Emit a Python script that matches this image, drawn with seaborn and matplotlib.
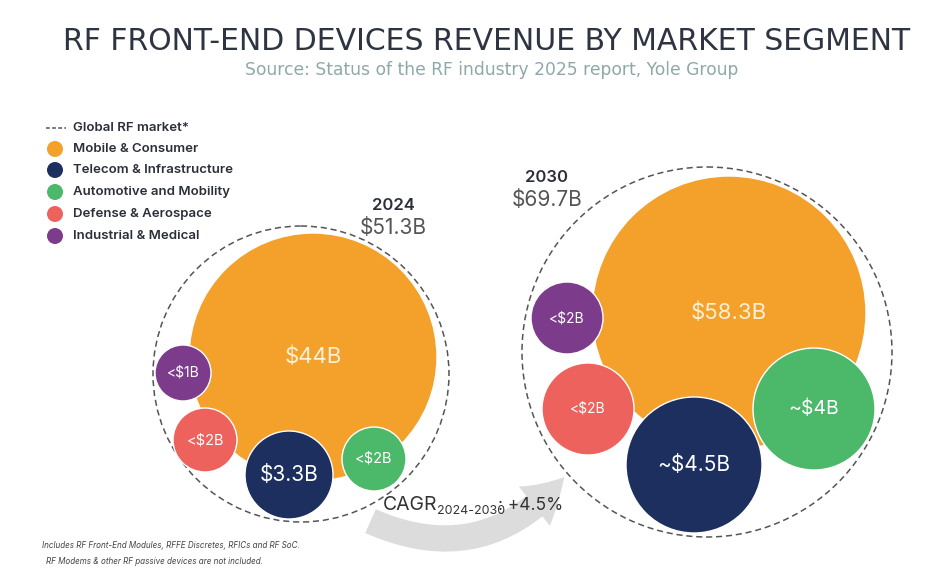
import numpy as np
import pandas as pd
import seaborn as sns
import matplotlib
matplotlib.use('Agg')
import matplotlib.pyplot as plt
from matplotlib.patches import Circle, FancyArrowPatch

# data
segments = ['Mobile & Consumer', 'Telecom & Infrastructure', 'Automotive and Mobility',
            'Defense & Aerospace', 'Industrial & Medical']
labels_2024 = ['$44B', '$3.3B', '<$2B', '<$2B', '<$1B']
labels_2030 = ['$58.3B', '~$4.5B', '~$4B', '<$2B', '<$2B']
years = ['2024', '2030']
totals = ['$51.3B', '$69.7B']
cagr = '+4.5%'

# layout (pixels) - bubble pack positions, not data
pos_2024 = [(313, 357), (289, 475), (374, 459), (205, 440), (183, 373)]
rad_2024 = [124, 44, 32, 32, 28]
pos_2030 = [(729, 313), (694, 465), (814, 409), (588, 409), (567, 318)]
rad_2030 = [137, 68, 61, 46, 36]
outer = [(301, 374, 148), (707, 352, 185)]

colors = {'Mobile & Consumer': '#f4a12c', 'Telecom & Infrastructure': '#1c2f5f',
          'Automotive and Mobility': '#4cb86a', 'Defense & Aerospace': '#ee625e',
          'Industrial & Medical': '#7d3b8b'}

sns.set_theme(style='white')
plt.rcParams['font.family'] = ['Inter', 'DejaVu Sans']

fig = plt.figure(figsize=(9.36, 5.85), dpi=100)
ax = fig.add_axes([0, 0, 1, 1])

rows = []
for yr, pos, rad, labs in [('2024', pos_2024, rad_2024, labels_2024),
                           ('2030', pos_2030, rad_2030, labels_2030)]:
    for seg, (x, y), r, lab in zip(segments, pos, rad, labs):
        rows.append({'year': yr, 'segment': seg, 'x': x, 'y': y, 'r': r, 'label': lab})
df = pd.DataFrame(rows)
df['s'] = (2 * df['r'] * 0.72) ** 2

# growth arrow behind everything
arrow = FancyArrowPatch(posA=(368, 520), posB=(566, 475),
                        connectionstyle='arc3,rad=0.38',
                        arrowstyle='simple,head_width=2.4,head_length=2.0,tail_width=1.25',
                        mutation_scale=15, color='#dcdcdc', lw=0, zorder=1)
ax.add_patch(arrow)

for (cx, cy, r) in outer:
    ax.add_patch(Circle((cx, cy), r, fill=False, ls=(0, (4, 2.5)), lw=1.1,
                        ec='#555555', zorder=2))

sns.scatterplot(data=df, x='x', y='y', hue='segment', palette=colors, s=df['s'],
                edgecolor='white', linewidth=1, legend=False, ax=ax, zorder=3)
ax.set_xlim(0, 936)
ax.set_ylim(585, 0)
ax.axis('off')

sizes = {'$44B': 16, '$58.3B': 16, '$3.3B': 15, '~$4.5B': 15, '~$4B': 14,
         '<$2B': 10.5, '<$1B': 10}
for _, row in df.iterrows():
    fc = '#fdf0d5' if row['segment'] == 'Mobile & Consumer' else 'white'
    fs = sizes[row['label']]
    if row['year'] == '2030' and row['label'] == '<$2B':
        fs = 10
    ax.text(row['x'], row['y'], row['label'], ha='center', va='center',
            fontsize=fs, color=fc, zorder=4)

# year / totals
ax.text(393, 206, years[0], ha='center', va='center', fontsize=12, fontweight='semibold', color='#2b2f3a')
ax.text(393, 228, totals[0], ha='center', va='center', fontsize=15, color='#555555')
ax.text(547, 177, years[1], ha='center', va='center', fontsize=12, fontweight='semibold', color='#2b2f3a')
ax.text(547, 200, totals[1], ha='center', va='center', fontsize=15, color='#555555')

# CAGR
ax.text(383, 505, 'CAGR', ha='left', va='center', fontsize=14, color='#333333', zorder=5)
ax.text(437, 511, '2024-2030', ha='left', va='center', fontsize=9, color='#333333', zorder=5)
ax.text(498, 505, ': ' + cagr, ha='left', va='center', fontsize=12.5, color='#333333', zorder=5)

# title
ax.text(487, 42, 'RF FRONT-END DEVICES REVENUE BY MARKET SEGMENT', ha='center', va='center',
        fontsize=21.5, color='#2e3441', family=['DejaVu Sans'])
ax.text(492, 70, 'Source: Status of the RF industry 2025 report, Yole Group', ha='center',
        va='center', fontsize=12.3, color='#8fa8a8', family=['DejaVu Sans'])

# legend
ax.plot([46, 66], [128, 128], ls=(0, (2.5, 1.5)), lw=1.1, color='#555555')
ax.text(73, 128, 'Global RF market*', ha='left', va='center', fontsize=9.5,
        fontweight='semibold', color='#2b2f3a')
ly = [149, 170, 192, 214, 236]
ax.scatter([55] * 5, ly, s=110, c=[colors[s] for s in segments], zorder=3)
for seg, y in zip(segments, ly):
    ax.text(73, y, seg, ha='left', va='center', fontsize=9.5, fontweight='semibold',
            color='#2b2f3a')

# footnote
ax.text(42, 546, 'Includes RF Front-End Modules, RFFE Discretes, RFICs and RF SoC.', ha='left',
        va='center', fontsize=5.8, style='italic', color='#444444')
ax.text(46, 562, 'RF Modems & other RF passive devices are not included.', ha='left',
        va='center', fontsize=5.8, style='italic', color='#444444')

fig.savefig('out.png', dpi=100)
